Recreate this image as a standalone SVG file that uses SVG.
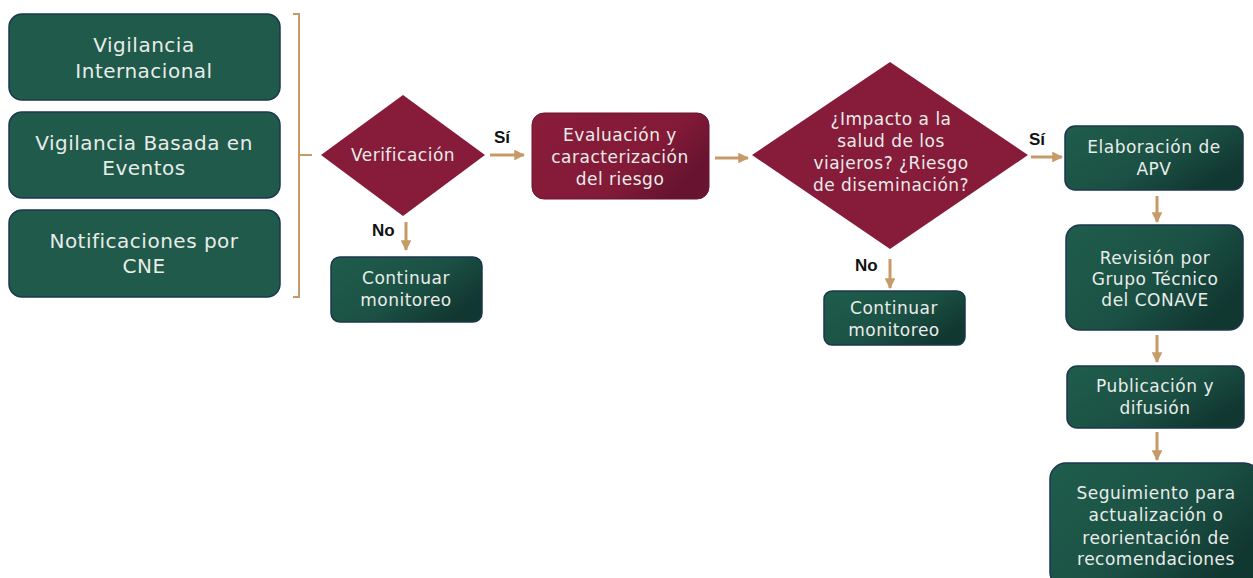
<svg xmlns="http://www.w3.org/2000/svg" width="1253" height="578" viewBox="0 0 1253 578">
<style>
.t{font-family:"DejaVu Sans","Noto Sans",sans-serif;fill:#e9ece9;text-anchor:middle;letter-spacing:0.5px}
.lb{font-family:"Liberation Sans",Arial,sans-serif;font-weight:bold;fill:#111;font-size:17px}
.g{fill:url(#gg);stroke:#1d3650;stroke-width:1.5}
.gs{fill:#1f5a4a;stroke:#1d3650;stroke-width:1.5}
.r{fill:#871b3a}
.rg{fill:url(#rg);stroke:#6a1530;stroke-width:1}
.c{stroke:#c79b68;stroke-width:3;fill:none}
.br{stroke:#c79b68;stroke-width:2;fill:none}
</style>
<defs>
<linearGradient id="gg" x1="0" y1="0" x2="1" y2="0.6">
<stop offset="0" stop-color="#1f5d4c"/>
<stop offset="0.6" stop-color="#1b5144"/>
<stop offset="1" stop-color="#113731"/>
</linearGradient>
<linearGradient id="rg" x1="0" y1="0" x2="1" y2="0.5">
<stop offset="0" stop-color="#891c3a"/>
<stop offset="0.7" stop-color="#831a38"/>
<stop offset="1" stop-color="#681430"/>
</linearGradient>
<marker id="ah" viewBox="0 0 10 10" refX="9" refY="5" markerWidth="3.6" markerHeight="3.6" orient="auto" markerUnits="strokeWidth">
<path d="M0,0 L10,5 L0,10 z" fill="#c79b68"/>
</marker>
</defs>

<g id="n-vigint">
<rect class="gs" x="9" y="14" width="271" height="86" rx="13"/>
<text class="t" font-size="20" x="144" y="52">Vigilancia</text>
<text class="t" font-size="20" x="144" y="78">Internacional</text>
</g>
<g id="n-vigbe">
<rect class="gs" x="9" y="112" width="271" height="86" rx="13"/>
<text class="t" font-size="20" x="144" y="150">Vigilancia Basada en</text>
<text class="t" font-size="20" x="144" y="175">Eventos</text>
</g>
<g id="n-notif">
<rect class="gs" x="9" y="210" width="271" height="87" rx="13"/>
<text class="t" font-size="20" x="144" y="248">Notificaciones por</text>
<text class="t" font-size="20" x="144" y="273">CNE</text>
</g>

<g id="n-bracket">
<path class="br" d="M293,14 H299 V297 H293 M299,155 H312"/>
</g>

<g id="n-verif">
<polygon class="r" points="321,155 403,95 485,155 403,216"/>
<text class="t" font-size="17" x="403" y="161">Verificación</text>
</g>

<g id="n-eval">
<rect class="rg" x="532" y="113" width="177" height="86" rx="12"/>
<text class="t" font-size="17" x="620" y="141">Evaluación y</text>
<text class="t" font-size="17" x="620" y="163">caracterización</text>
<text class="t" font-size="17" x="620" y="185">del riesgo</text>
</g>

<g id="n-cont1">
<rect class="g" x="331" y="257" width="151" height="65" rx="9"/>
<text class="t" font-size="17" x="406" y="284">Continuar</text>
<text class="t" font-size="17" x="406" y="306">monitoreo</text>
</g>

<g id="n-impacto">
<polygon class="r" points="752,155 890,62 1028,155 890,249"/>
<text class="t" font-size="17" x="891" y="125">¿Impacto a la</text>
<text class="t" font-size="17" x="891" y="147">salud de los</text>
<text class="t" font-size="17" x="891" y="169">viajeros? ¿Riesgo</text>
<text class="t" font-size="17" x="891" y="191">de diseminación?</text>
</g>

<g id="n-cont2">
<rect class="g" x="824" y="291" width="141" height="54" rx="8"/>
<text class="t" font-size="17" x="894" y="314">Continuar</text>
<text class="t" font-size="17" x="894" y="336">monitoreo</text>
</g>

<g id="n-elab">
<rect class="g" x="1065" y="126" width="178" height="64" rx="10"/>
<text class="t" font-size="17" x="1154" y="153">Elaboración de</text>
<text class="t" font-size="17" x="1154" y="175">APV</text>
</g>

<g id="n-rev">
<rect class="g" x="1066" y="225" width="177" height="105" rx="14"/>
<text class="t" font-size="17" x="1155" y="264">Revisión por</text>
<text class="t" font-size="17" x="1155" y="285">Grupo Técnico</text>
<text class="t" font-size="17" x="1155" y="306">del CONAVE</text>
</g>

<g id="n-pub">
<rect class="g" x="1067" y="366" width="177" height="62" rx="10"/>
<text class="t" font-size="17" x="1155" y="392">Publicación y</text>
<text class="t" font-size="17" x="1155" y="414">difusión</text>
</g>

<g id="n-seg">
<rect class="g" x="1050" y="463" width="210" height="125" rx="16"/>
<text class="t" font-size="17" x="1156" y="499">Seguimiento para</text>
<text class="t" font-size="17" x="1156" y="521">actualización o</text>
<text class="t" font-size="17" x="1156" y="544">reorientación de</text>
<text class="t" font-size="17" x="1156" y="565">recomendaciones</text>
</g>

<g id="connectors">
<line class="c" x1="490" y1="155" x2="524" y2="155" marker-end="url(#ah)"/>
<line class="c" x1="406" y1="222" x2="406" y2="250" marker-end="url(#ah)"/>
<line class="c" x1="715" y1="158" x2="748" y2="158" marker-end="url(#ah)"/>
<line class="c" x1="890" y1="259" x2="890" y2="288" marker-end="url(#ah)"/>
<line class="c" x1="1031" y1="157" x2="1062" y2="157" marker-end="url(#ah)"/>
<line class="c" x1="1157" y1="196" x2="1157" y2="222" marker-end="url(#ah)"/>
<line class="c" x1="1157" y1="335" x2="1157" y2="362" marker-end="url(#ah)"/>
<line class="c" x1="1157" y1="432" x2="1157" y2="460" marker-end="url(#ah)"/>
<text class="lb" x="494" y="143">Sí</text>
<text class="lb" x="372" y="236">No</text>
<text class="lb" x="855" y="271">No</text>
<text class="lb" x="1029" y="145">Sí</text>
</g>
</svg>
